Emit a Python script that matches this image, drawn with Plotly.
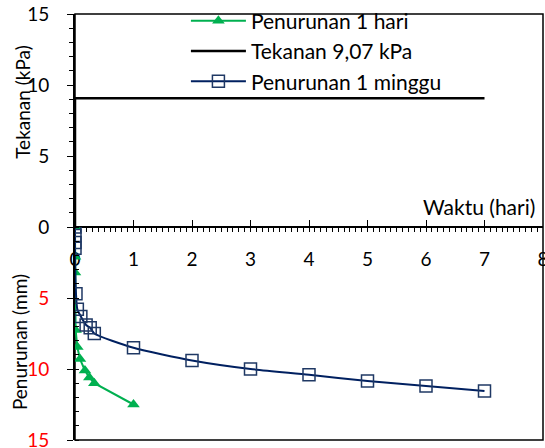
import plotly.graph_objects as go

# Data
hari_x = [0, 0, 0, 0.01, 0.04, 0.085, 0.17, 0.245, 0.33, 1.0]
hari_y = [0, 2.1, 3.2, 7.25, 8.45, 9.3, 10.1, 10.6, 11.0, 12.5]

minggu_x = [0, 0.0, 0.0, 0.0, 0.017, 0.04, 0.1, 0.19, 0.26, 0.33, 1, 2, 3, 4, 5, 6, 7]
minggu_y = [0, 0.6, 1.1, 1.5, 4.7, 5.8, 6.3, 6.9, 7.1, 7.5, 8.5, 9.4, 10.0, 10.4, 10.85, 11.2, 11.55]

tekanan_x = [0, 0, 7]
tekanan_y = [0, 9.07, 9.07]

x_ticks = [0, 1, 2, 3, 4, 5, 6, 7, 8]
y_top_ticks = [0, 5, 10, 15]
y_bot_ticks = [5, 10, 15]

FONT = "Lato"
FS = 19

fig = go.Figure()
fig.add_trace(go.Scatter(
    x=hari_x, y=hari_y, xaxis="x", yaxis="y2", name="Penurunan 1 hari",
    mode="lines+markers", line=dict(color="#00B050", width=2),
    marker=dict(symbol="triangle-up", size=11, color="#00B050"),
))
fig.add_trace(go.Scatter(
    x=tekanan_x, y=tekanan_y, xaxis="x", yaxis="y", name="Tekanan 9,07 kPa",
    mode="lines", line=dict(color="black", width=2.5),
))
fig.add_trace(go.Scatter(
    x=minggu_x, y=minggu_y, xaxis="x", yaxis="y2", name="Penurunan 1 minggu",
    mode="lines+markers", line=dict(color="#002060", width=2, shape="spline", smoothing=0.6),
    marker=dict(symbol="square-open", size=12, color="#1F3864", line=dict(width=1.5)),
))

fig.update_layout(
    width=545, height=448, autosize=False,
    margin=dict(l=75, r=2, t=13, b=8),
    paper_bgcolor="white", plot_bgcolor="white",
    font=dict(family=FONT, size=FS, color="black"),
    showlegend=True,
    legend=dict(
        x=0.237, y=1.029, xanchor="left", yanchor="top",
        bgcolor="rgba(0,0,0,0)", font=dict(size=21, family=FONT),
        itemwidth=55, tracegroupgap=0,
    ),
    xaxis=dict(
        domain=[0, 1], range=[0, 8], anchor="free", position=0.5,
        tickvals=x_ticks, showgrid=False, zeroline=False, automargin=False,
        showline=True, linecolor="black", linewidth=1.5,
        ticks="inside", ticklen=6, tickcolor="black", tickwidth=1.2,
        minor=dict(dtick=0.1, ticks="outside", ticklen=4, tickcolor="black", tickwidth=1),
        tickfont=dict(size=FS), ticklabeloverflow="allow", ticklabelstandoff=15,
    ),
    yaxis=dict(
        domain=[0.5, 1], range=[0, 15], tickvals=y_top_ticks,
        anchor="x", showgrid=False, zeroline=False, automargin=False,
        showline=True, linecolor="black", linewidth=2,
        ticks="outside", ticklen=6, tickcolor="black",
        minor=dict(dtick=1, ticks="outside", ticklen=4, tickcolor="black"),
        tickfont=dict(size=FS), ticklabeloverflow="allow", ticklabelstandoff=14,
    ),
    yaxis2=dict(
        domain=[0, 0.5], range=[15, 0], tickvals=y_bot_ticks,
        anchor="x", showgrid=False, zeroline=False, automargin=False,
        showline=True, linecolor="black", linewidth=2,
        ticks="outside", ticklen=6, tickcolor="black",
        minor=dict(dtick=1, ticks="inside", ticklen=4, tickcolor="black"),
        tickfont=dict(size=FS, color="red"), ticklabeloverflow="allow", ticklabelstandoff=14,
    ),
    shapes=[dict(type="rect", xref="paper", yref="paper", x0=0, x1=1, y0=0, y1=1,
                 line=dict(color="black", width=1.5), layer="below")],
    annotations=[
        dict(text="Waktu (hari)", xref="paper", yref="paper",
             x=0.988, y=0.5, xanchor="right", yanchor="bottom", yshift=6,
             showarrow=False, font=dict(size=21)),
        dict(text="Tekanan (kPa)", xref="paper", yref="paper", textangle=-90,
             x=-0.111, y=0.794, xanchor="center", yanchor="middle",
             showarrow=False, font=dict(size=FS)),
        dict(text="Penurunan (mm)", xref="paper", yref="paper", textangle=-90,
             x=-0.12, y=0.2295, xanchor="center", yanchor="middle",
             showarrow=False, font=dict(size=FS)),
    ],
)

fig.write_html(
    "out.html",
    config={"displayModeBar": False, "responsive": False},
    post_script="document.body.style.margin='0px';document.body.style.overflow='hidden';",
)
